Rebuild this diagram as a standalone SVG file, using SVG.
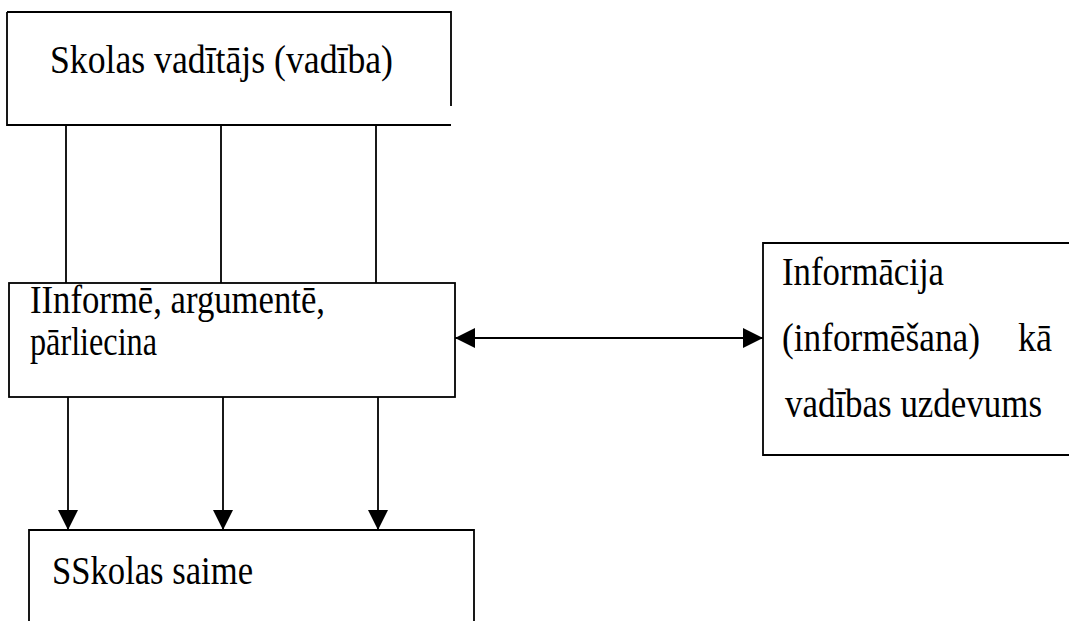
<svg xmlns="http://www.w3.org/2000/svg" width="1069" height="621" viewBox="0 0 1069 621">
  <style>
    .frame { fill: none; stroke: #000; stroke-width: 1.8; }
    .link { fill: none; stroke: #000; stroke-width: 1.8; }
    .label { font-family: "Liberation Serif", "Times New Roman", serif; font-size: 39px; fill: #000; }
  </style>
  <defs>
    <marker id="head" viewBox="0 0 10 10" refX="10" refY="5" markerWidth="20" markerHeight="22" markerUnits="userSpaceOnUse" orient="auto-start-reverse">
      <path d="M0,0 L10,5 L0,10 Z" fill="#000"/>
    </marker>
  </defs>
  <rect width="1069" height="621" fill="#fff"/>

  <!-- management -->
  <g id="node-vaditajs">
    <path class="frame" d="M7,12 H451 V106 M7,12 V125 H451"/>
    <text class="label" x="50" y="73" textLength="343" lengthAdjust="spacingAndGlyphs">Skolas vadītājs (vadība)</text>
  </g>

  <!-- informs, argues, persuades -->
  <g id="node-informe">
    <rect class="frame" x="9" y="283" width="446" height="114"/>
    <text class="label" x="30" y="313" textLength="295" lengthAdjust="spacingAndGlyphs">IInformē, argumentē,</text>
    <text class="label" x="30" y="355" textLength="127" lengthAdjust="spacingAndGlyphs">pārliecina</text>
  </g>

  <!-- information as a management task -->
  <g id="node-informacija">
    <path class="frame" d="M1069,243 H763 V455 H1069"/>
    <text class="label" x="782" y="285" textLength="162" lengthAdjust="spacingAndGlyphs">Informācija</text>
    <text class="label" x="782" y="351" textLength="198" lengthAdjust="spacingAndGlyphs">(informēšana)</text>
    <text class="label" x="1018" y="351" textLength="34" lengthAdjust="spacingAndGlyphs">kā</text>
    <text class="label" x="785" y="417" textLength="257" lengthAdjust="spacingAndGlyphs">vadības uzdevums</text>
  </g>

  <!-- school family -->
  <g id="node-saime">
    <path class="frame" d="M29,621 V530 H474 V621"/>
    <text class="label" x="52" y="584" textLength="201" lengthAdjust="spacingAndGlyphs">SSkolas saime</text>
  </g>

  <g id="connectors">
    <line class="link" x1="66" y1="125" x2="66" y2="283"/>
    <line class="link" x1="221" y1="125" x2="221" y2="283"/>
    <line class="link" x1="376" y1="125" x2="376" y2="283"/>
    <line class="link" x1="68" y1="397" x2="68" y2="530" marker-end="url(#head)"/>
    <line class="link" x1="223" y1="397" x2="223" y2="530" marker-end="url(#head)"/>
    <line class="link" x1="378" y1="397" x2="378" y2="530" marker-end="url(#head)"/>
    <line class="link" x1="455" y1="338" x2="763" y2="338" marker-start="url(#head)" marker-end="url(#head)"/>
  </g>
</svg>
